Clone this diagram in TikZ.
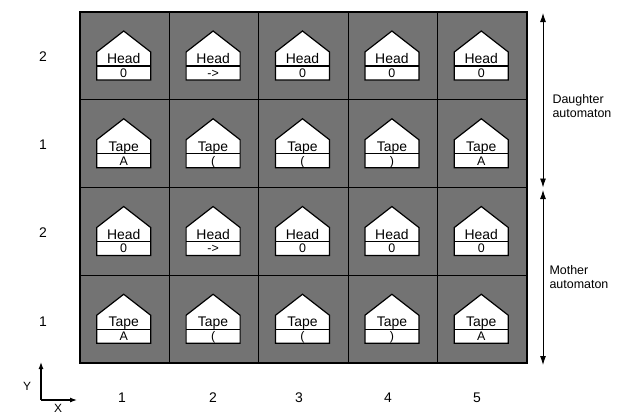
\documentclass[tikz,border=0pt]{standalone}
\usepackage{fontspec}
\setmainfont{Liberation Sans}
\usetikzlibrary{arrows.meta}

\newcommand{\tlp}{(}
\newcommand{\trp}{)}

\begin{document}
\begin{tikzpicture}[
    x=1bp, y=-1bp,
    >={Latex[length=9bp,width=6bp]},
    every node/.style={font=\fontsize{14}{16}\selectfont},
    cellbg/.style={draw=black, line width=0.8bp, fill=black!55},
    icon/.style={draw=black, line width=1.2bp, fill=white},
    itxt/.style={font=\fontsize{14}{16}\selectfont, inner sep=0pt},
    vtxt/.style={font=\fontsize{12.5}{14}\selectfont, inner sep=0pt, anchor=base},
    lbl/.style={font=\fontsize{12.5}{13.5}\selectfont, align=left, anchor=west}
]
\useasboundingbox (0,0) rectangle (620,415);

% ----------------------------------------------------------
% Grid of cells (5 columns, 4 rows)
% ----------------------------------------------------------
\foreach \c in {0,...,4} {
    \foreach \r in {0,...,3} {
        \draw[cellbg] ({80+\c*89.4}, {12+\r*87.75}) rectangle ++(89.4, 87.75);
    }
}
\draw[line width=1.6bp] (80,12) rectangle (527,363);

% ----------------------------------------------------------
% Head / Tape icons in every cell
% ----------------------------------------------------------
\foreach \r/\kind/\vals in {0/Head/{0,->,0,0,0}, 1/Tape/{A,\tlp,\tlp,\trp,A},
                            2/Head/{0,->,0,0,0}, 3/Tape/{A,\tlp,\tlp,\trp,A}} {
    \foreach \v [count=\c from 0] in \vals {
        \pgfmathsetmacro{\cx}{123.7+\c*89.4}
        \pgfmathsetmacro{\ty}{12+\r*87.75}
        \draw[icon] (\cx-27,\ty+68) -- (\cx-27,\ty+40) -- (\cx,\ty+19)
                    -- (\cx+27,\ty+40) -- (\cx+27,\ty+68) -- cycle;
        \draw[icon] (\cx-27,\ty+54) -- (\cx+27,\ty+54);
        \node[itxt, anchor=base] (k-\c-\r) at (\cx,\ty+51.5) {\kind};
        \node[vtxt] (v-\c-\r) at (\cx,\ty+65.3) {\v};
    }
}

% ----------------------------------------------------------
% Row and column numbers
% ----------------------------------------------------------
\foreach \n/\y [count=\i] in {2/57, 1/145, 2/233, 1/322} {
    \node (row\i) at (43,\y) {\n};
}
\foreach \n/\x in {1/122, 2/213, 3/299, 4/388, 5/477} {
    \node (col\n) at (\x,398) {\n};
}

% ----------------------------------------------------------
% Axes
% ----------------------------------------------------------
\coordinate (orig) at (41,400);
\coordinate (ytip) at (41,362);
\coordinate (xtip) at (77,400);
\draw[line width=1.2bp, -{Latex[length=7bp,width=5bp]}] (orig) -- (ytip);
\draw[line width=1.2bp, -{Latex[length=7bp,width=5bp]}] (orig) -- (xtip);
\node[font=\fontsize{12}{14}\selectfont, inner sep=0pt] (ylbl) at (27,386) {Y};
\node[font=\fontsize{12}{14}\selectfont, inner sep=0pt] (xlbl) at (58,408) {X};

% ----------------------------------------------------------
% Automaton ranges on the right
% ----------------------------------------------------------
\coordinate (dtop) at (543,13);
\coordinate (dbot) at (543,187.5);
\coordinate (mtop) at (543,190);
\coordinate (mbot) at (543,365);
\draw[line width=0.9bp, <->] (dtop) -- (dbot);
\draw[line width=0.9bp, <->] (mtop) -- (mbot);
\node[lbl] (daughter) at (549,106) {Daughter\\automaton};
\node[lbl] (mother) at (546,277) {Mother\\automaton};

\end{tikzpicture}
\end{document}
